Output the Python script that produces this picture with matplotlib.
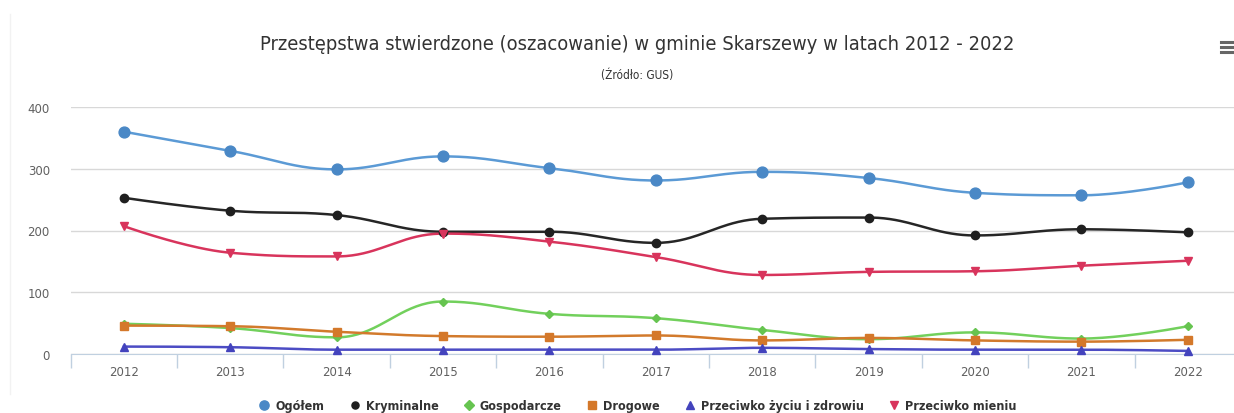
import numpy as np
import matplotlib
matplotlib.use("Agg")
import matplotlib.pyplot as plt
from matplotlib.lines import Line2D
from matplotlib import font_manager

names = {f.name for f in font_manager.fontManager.ttflist}
narrow = [n for n in ["Liberation Sans Narrow", "DejaVu Sans Condensed"] if n in names]
plt.rcParams['font.family'] = narrow + ['DejaVu Sans']

years = [2012, 2013, 2014, 2015, 2016, 2017, 2018, 2019, 2020, 2021, 2022]

ogolem = [360, 329, 299, 320, 301, 281, 295, 285, 261, 257, 278]
kryminalne = [253, 232, 225, 198, 198, 180, 219, 221, 192, 202, 197]
gospodarcze = [49, 42, 27, 85, 65, 58, 39, 24, 35, 25, 45]
drogowe = [46, 45, 36, 29, 28, 30, 22, 26, 22, 20, 23]
zycie = [12, 11, 7, 7, 7, 7, 10, 8, 7, 7, 5]
mienie = [207, 164, 158, 195, 182, 157, 128, 133, 134, 143, 151]

series = [
    ("Ogółem", ogolem, "#5b9ad5", "#4a88c6", "o", 7.8),
    ("Kryminalne", kryminalne, "#262626", "#1f1f1f", "o", 6),
    ("Gospodarcze", gospodarcze, "#72d05c", "#66c450", "D", 4.3),
    ("Drogowe", drogowe, "#d27a2c", "#d4782a", "s", 6.2),
    ("Przeciwko życiu i zdrowiu", zycie, "#4c4cc4", "#4343bd", "^", 6.2),
    ("Przeciwko mieniu", mienie, "#d8345c", "#d8345c", "v", 6.2),
]


def spline(xs, ys, smoothing=1.5):
    # highcharts-like spline control points
    n = len(xs)
    left = [None] * n
    right = [None] * n
    d = smoothing + 1
    for i in range(1, n - 1):
        lx, ly = xs[i - 1], ys[i - 1]
        nx, ny = xs[i + 1], ys[i + 1]
        px, py = xs[i], ys[i]
        lcx = (smoothing * px + lx) / d
        lcy = (smoothing * py + ly) / d
        rcx = (smoothing * px + nx) / d
        rcy = (smoothing * py + ny) / d
        corr = ((rcy - lcy) * (rcx - px)) / (rcx - lcx) + py - rcy
        lcy += corr
        rcy += corr
        if lcy > ly and lcy > py:
            lcy = max(ly, py)
            rcy = 2 * py - lcy
        elif lcy < ly and lcy < py:
            lcy = min(ly, py)
            rcy = 2 * py - lcy
        if rcy > ny and rcy > py:
            rcy = max(ny, py)
            lcy = 2 * py - rcy
        elif rcy < ny and rcy < py:
            rcy = min(ny, py)
            lcy = 2 * py - rcy
        left[i] = (lcx, lcy)
        right[i] = (rcx, rcy)
    outx, outy = [], []
    t = np.linspace(0, 1, 40)
    for i in range(1, n):
        p0 = (xs[i - 1], ys[i - 1])
        p3 = (xs[i], ys[i])
        p1 = right[i - 1] if right[i - 1] else p0
        p2 = left[i] if left[i] else p3
        bx = (1 - t) ** 3 * p0[0] + 3 * (1 - t) ** 2 * t * p1[0] + 3 * (1 - t) * t ** 2 * p2[0] + t ** 3 * p3[0]
        by = (1 - t) ** 3 * p0[1] + 3 * (1 - t) ** 2 * t * p1[1] + 3 * (1 - t) * t ** 2 * p2[1] + t ** 3 * p3[1]
        outx.extend(bx)
        outy.extend(by)
    return np.array(outx), np.array(outy)


fig = plt.figure(figsize=(12.34, 4.14), dpi=100)
ax = fig.add_axes([70.7 / 1234, 1 - 355 / 414, 1170.3 / 1234, 247 / 414])

x = np.arange(len(years))
for name, vals, lc, mc, mk, ms in series:
    sx, sy = spline(list(x), vals)
    ax.plot(sx, sy, color=lc, lw=1.8, clip_on=False, zorder=3)
    ax.plot(x, vals, ls="none", marker=mk, ms=ms, color=mc, mec=mc,
            clip_on=False, zorder=4)

ax.set_xlim(-0.5, len(years) - 0.5)
ax.set_ylim(0, 400)
ax.set_yticks([0, 100, 200, 300, 400])
ax.set_yticklabels(["0", "100", "200", "300", "400"], family="DejaVu Sans")
ax.yaxis.grid(True, color="#d8d8d8", lw=1)
ax.set_axisbelow(True)
ax.tick_params(axis="y", length=0, labelsize=8.5, labelcolor="#606060", pad=15)

ax.set_xticks(x)
ax.set_xticklabels([str(y) for y in years], family="DejaVu Sans")
ax.set_xticks(np.arange(-0.5, len(years), 1), minor=True)
ax.tick_params(axis="x", which="major", length=0, labelsize=8.5,
               labelcolor="#606060", pad=8)
ax.tick_params(axis="x", which="minor", length=10, color="#c0d0e0", width=1)

for s in ["top", "right", "left"]:
    ax.spines[s].set_visible(False)
ax.spines["bottom"].set_color("#c0d0e0")

fig.text(0.5166, 1 - 45 / 414, "Przestępstwa stwierdzone (oszacowanie) w gminie Skarszewy w latach 2012 - 2022",
         ha="center", va="center", fontsize=14.4, color="#333333", stretch="condensed")
fig.text(0.5166, 1 - 75 / 414, "(Źródło: GUS)", ha="center", va="center",
         fontsize=8.5, color="#333333", stretch="condensed")

# context menu icon
for yy in [43, 48, 53]:
    fig.add_artist(Line2D([1221 / 1234, 1233 / 1234], [1 - yy / 414] * 2,
                          color="#666666", lw=2.2))

# faint container border
fig.add_artist(Line2D([10 / 1234, 10 / 1234], [1 - 15 / 414, 1 - 395 / 414],
                      color="#f2f2f2", lw=1))

handles = [Line2D([], [], ls="none", marker=mk, ms=ms * 0.85 if mk != "D" else 5, color=mc)
           for name, vals, lc, mc, mk, ms in series]
labels = [s[0] for s in series]
leg = fig.legend(handles, labels, loc="center", ncol=6,
                 bbox_to_anchor=(0.517, 1 - 407 / 414), frameon=False,
                 handlelength=0.8, handletextpad=0.5, columnspacing=2.0,
                 prop={"size": 9, "weight": "bold", "stretch": "condensed"})
for t in leg.get_texts():
    t.set_color("#333333")

fig.savefig("out.png", dpi=100)
